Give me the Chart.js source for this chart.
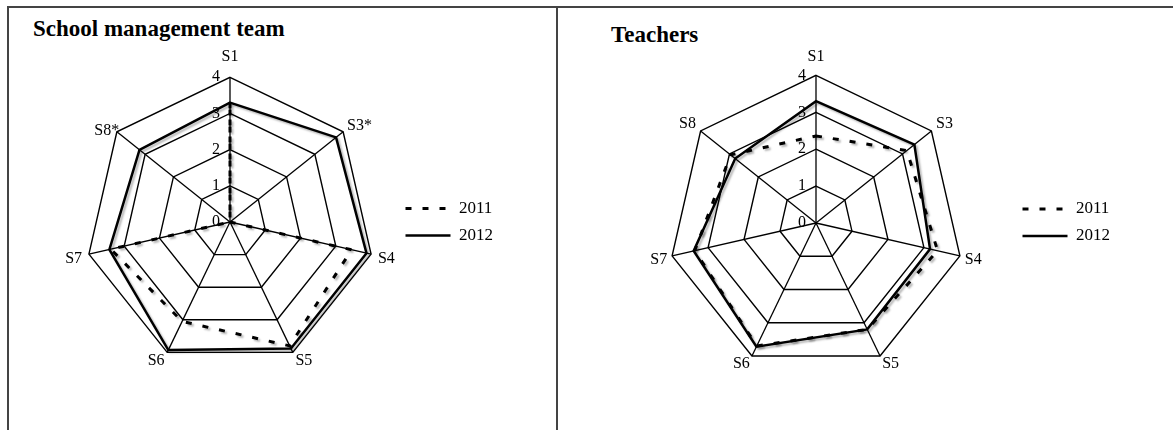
<!DOCTYPE html>
<html>
<head>
<meta charset="utf-8">
<script src="https://cdn.jsdelivr.net/npm/chart.js@4.4.1/dist/chart.umd.min.js"></script>
<style>
  body { margin: 0; width: 1173px; height: 430px; overflow: hidden; background: #fff; font-family: "Liberation Serif", serif; }
  .frame { position: absolute; left: 7px; top: 6px; width: 1200px; height: 440px; border-top: 2px solid #444; border-left: 2px solid #444; }
  .divider { position: absolute; left: 556px; top: 7px; width: 2px; height: 430px; background: #444; }
  .title { position: absolute; font-weight: bold; font-size: 23px; line-height: 23px; color: #000; white-space: nowrap; }
  .box { position: absolute; }
</style>
</head>
<body>
<div class="frame"></div>
<div class="divider"></div>
<div class="title" style="left:33px;top:17px">School management team</div>
<div class="title" style="left:611px;top:23px">Teachers</div>
<div class="box" style="left:65px;top:24px;width:438px;height:396px"><canvas id="smt"></canvas></div>
<div class="box" style="left:620px;top:48px;width:500px;height:339px"><canvas id="teach"></canvas></div>
<script>
// spokes (S2 is not in the survey)
const axes = ['S1', 'S3', 'S4', 'S5', 'S6', 'S7', 'S8']
const smtAxes = ['S1', 'S3*', 'S4', 'S5', 'S6', 'S7', 'S8*']
const years = ['2011', '2012']
const tickValues = [0, 1, 2, 3, 4]

// school management team, S3 and S8 not asked in 2011
const smt2011 = [3.3, 0, 3.45, 3.8, 3.05, 3.38, 0]
const smt2012 = [3.3, 3.75, 3.87, 3.88, 3.93, 3.42, 3.2]

// teachers
const teach2011 = [2.36, 3.15, 3.38, 3.2, 3.7, 3.37, 2.96]
const teach2012 = [3.3, 3.41, 3.17, 3.2, 3.72, 3.4, 2.8]

const serif = 'Liberation Serif'

// radial scale skips the label of the first tick, draw the "0" ourselves
const zeroTick = {
    id: 'zeroTick',
    afterDraw(chart) {
        const s = chart.scales.r
        const t = s.options.ticks
        const c = chart.ctx
        c.save()
        c.font = t.font.size + 'px "' + t.font.family + '"'
        c.fillStyle = t.color
        c.textAlign = 'center'
        c.textBaseline = 'middle'
        c.fillText(s.ticks[0].label, s.xCenter, s.yCenter - s.getDistanceFromCenterForValue(s.ticks[0].value))
        c.restore()
    }
}

// soft grey offset under the series lines, like the printed figure
const shade = {
    id: 'shade',
    beforeDatasetsDraw(chart) {
        const c = chart.ctx
        c.save()
        c.shadowColor = 'rgba(0,0,0,0.28)'
        c.shadowBlur = 2
        c.shadowOffsetX = 2
        c.shadowOffsetY = 2
    },
    afterDatasetsDraw(chart) {
        chart.ctx.restore()
    }
}

// legend lines should copy the dash and width of the series line
function lineLabels(chart) {
    const items = Chart.defaults.plugins.legend.labels.generateLabels(chart)
    items.forEach(it => {
        const ds = chart.data.datasets[it.datasetIndex]
        it.lineDash = ds.borderDash || []
        it.lineWidth = ds.borderWidth
        it.strokeStyle = ds.borderColor
        it.fillStyle = ds.borderColor
    })
    return items
}

function radar(id, labels, a, b, labelPad, legendTop) {
    return new Chart(document.getElementById(id), {
        type: 'radar',
        data: {
            labels: labels,
            datasets: [{
                label: years[0],
                data: a,
                borderColor: '#000',
                backgroundColor: 'transparent',
                borderWidth: 3,
                borderDash: [6, 11],
                pointRadius: 0,
                fill: false
            }, {
                label: years[1],
                data: b,
                borderColor: '#000',
                backgroundColor: 'transparent',
                borderWidth: 2.5,
                pointRadius: 0,
                fill: false
            }]
        },
        options: {
            responsive: true,
            maintainAspectRatio: false,
            animation: false,
            devicePixelRatio: 1,
            layout: { padding: 0 },
            elements: { line: { tension: 0 } },
            scales: {
                r: {
                    min: tickValues[0],
                    max: tickValues[tickValues.length - 1],
                    startAngle: 0,
                    grid: { color: '#000', lineWidth: 1.4, circular: false },
                    angleLines: { color: '#000', lineWidth: 1.3 },
                    ticks: {
                        stepSize: tickValues[1] - tickValues[0],
                        color: '#000',
                        font: { family: serif, size: 16 },
                        showLabelBackdrop: false,
                        backdropPadding: 0,
                        callback: v => String(v) + '       '
                    },
                    pointLabels: {
                        color: '#000',
                        font: { family: serif, size: 16, lineHeight: 0.4 },
                        padding: ctx => labelPad[ctx.index]
                    }
                }
            },
            plugins: {
                legend: {
                    position: 'right',
                    align: 'center',
                    // empty title only pushes the two rows down a little
                    title: { display: legendTop > 0, text: '', padding: 0, font: { size: legendTop || 1, lineHeight: 1 } },
                    labels: {
                        usePointStyle: true,
                        pointStyle: 'line',
                        pointStyleWidth: 45,
                        padding: 10,
                        color: '#000',
                        font: { family: serif, size: 17 },
                        generateLabels: lineLabels
                    }
                },
                tooltip: { enabled: false }
            }
        },
        plugins: [zeroTick, shade]
    })
}

radar('smt', smtAxes, smt2011, smt2012, [9, -3, -1, -2, -2, -1, -11], 0)
radar('teach', axes, teach2011, teach2012, [7, -2, -3, -3, -3, -3, -2], 10)
</script>
</body>
</html>
